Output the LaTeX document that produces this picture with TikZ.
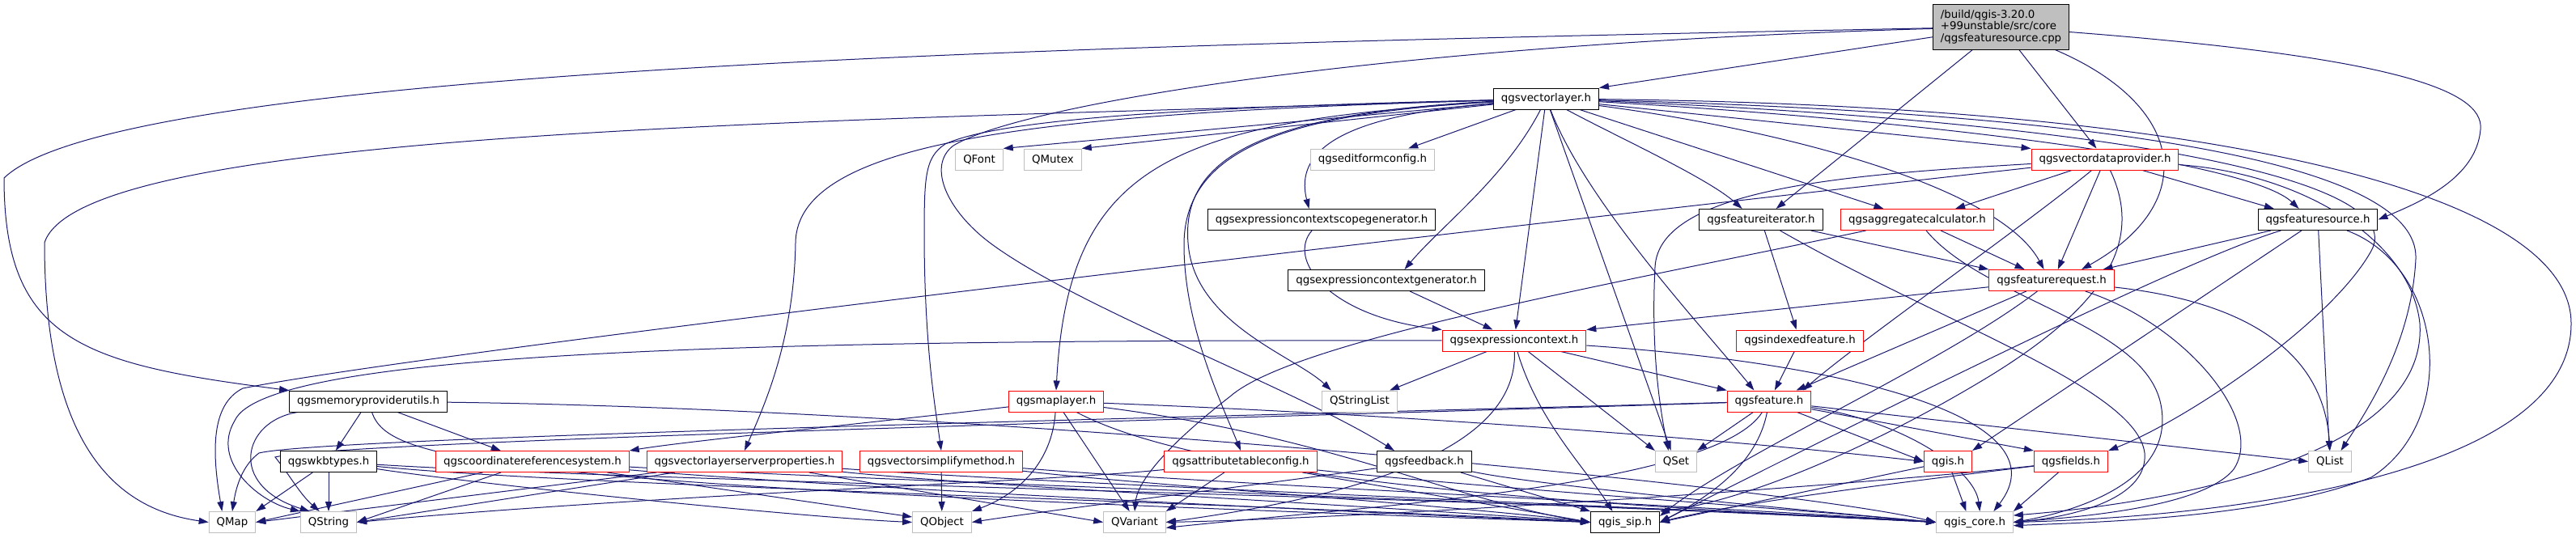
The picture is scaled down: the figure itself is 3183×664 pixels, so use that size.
\documentclass[tikz,border=0pt]{standalone}
\usepackage{fontspec}
\setmainfont{DejaVu Sans}
\usetikzlibrary{arrows.meta}
\definecolor{edgeblue}{HTML}{191970}
\definecolor{grey75}{HTML}{BFBFBF}
\definecolor{boxred}{HTML}{FF0000}
\pgfdeclarelayer{edges}
\pgfsetlayers{edges,main}
\tikzset{file/.style = {draw = black, fill = white, line width = 0.75pt, minimum height = 19.5pt,
                        inner xsep = 7.1pt, inner ysep = 0pt, font = \fontsize{10}{11}\selectfont}}
\tikzset{redfile/.style = {file, draw = boxred}}
\tikzset{sysfile/.style = {file, draw = grey75}}
\tikzset{dep/.style = {draw = edgeblue, line width = 0.75pt, -{Triangle[length = 9pt, width = 6pt]}}}

\begin{document}
\begin{tikzpicture}[x = 0.75pt, y = -0.75pt]
      \useasboundingbox (0, 0) rectangle (3183, 664);

      \node[file, fill = grey75, align = left, minimum width = 125.25pt, minimum height = 42pt] (src) at (2472.5, 33)
            {/build/qgis-3.20.0\\+99unstable/src/core\\/qgsfeaturesource.cpp};
      \node[file] (vl) at (1910.5, 122) {qgsvectorlayer.h};

      \node[sysfile] (font) at (1210, 197) {QFont};
      \node[sysfile] (mutex) at (1301, 197) {QMutex};
      \node[sysfile] (efc) at (1696, 197) {qgseditformconfig.h};
      \node[redfile] (vdp) at (2601, 197) {qgsvectordataprovider.h};

      \node[file] (ecsg) at (1633, 271.5) {qgsexpressioncontextscopegenerator.h};
      \node[file] (fi) at (2176, 271.5) {qgsfeatureiterator.h};
      \node[redfile] (agg) at (2369, 271.5) {qgsaggregatecalculator.h};
      \node[file] (fs) at (2864, 271.5) {qgsfeaturesource.h};

      \node[file] (ecg) at (1713, 346.5) {qgsexpressioncontextgenerator.h};
      \node[redfile] (fr) at (2535, 346.5) {qgsfeaturerequest.h};

      \node[redfile] (ec) at (1871, 421) {qgsexpressioncontext.h};
      \node[redfile] (idx) at (2224, 421) {qgsindexedfeature.h};

      \node[file] (mpu) at (455, 496) {qgsmemoryproviderutils.h};
      \node[redfile] (ml) at (1305, 496) {qgsmaplayer.h};
      \node[sysfile] (strl) at (1680, 496) {QStringList};
      \node[redfile] (feat) at (2186, 496) {qgsfeature.h};

      \node[file] (wkb) at (406, 570.5) {qgswkbtypes.h};
      \node[redfile] (crs) at (658, 570.5) {qgscoordinatereferencesystem.h};
      \node[redfile] (vsp) at (920, 570.5) {qgsvectorlayerserverproperties.h};
      \node[redfile] (vsm) at (1163, 570.5) {qgsvectorsimplifymethod.h};
      \node[redfile] (atc) at (1533, 570.5) {qgsattributetableconfig.h};
      \node[file] (fb) at (1760, 570.5) {qgsfeedback.h};
      \node[sysfile] (qset) at (2071, 570.5) {QSet};
      \node[redfile] (qgis) at (2407, 570.5) {qgis.h};
      \node[redfile] (fields) at (2559, 570.5) {qgsfields.h};
      \node[sysfile] (qlist) at (2879, 570.5) {QList};

      \node[sysfile] (qmap) at (287, 645.5) {QMap};
      \node[sysfile] (qstr) at (406, 645.5) {QString};
      \node[sysfile] (qobj) at (1164, 645.5) {QObject};
      \node[sysfile] (qvar) at (1402, 645.5) {QVariant};
      \node[file] (sip) at (2008, 645.5) {qgis\_sip.h};
      \node[sysfile] (core) at (2440, 645.5) {qgis\_core.h};

      \begin{pgfonlayer}{edges}
      % the source file
      \draw[dep] (src) -- (vl.north east);
      \draw[dep] (src) .. controls (1400, 55) and (150, 80) .. (5, 220) .. controls (5, 420) and (100, 450) .. (mpu.north west);
      \draw[dep] (src) .. controls (1700, 55) and (1260, 130) .. (1178, 180) .. controls (1145, 205) and (1170, 260) .. (1223, 300) .. controls (1330, 380) and (1600, 480) .. (fb.160);
      \draw[dep] (src) -- (fi.36);
      \draw[dep] (src) -- (vdp);
      \draw[dep] (src) .. controls (2700, 130) and (2720, 250) .. (fr.20);
      \draw[dep] (src) .. controls (2950, 70) and (3070, 110) .. (3065, 160) .. controls (3060, 220) and (2990, 250) .. (fs.east);

      % qgsvectorlayer.h
      \draw[dep] (vl) -- (font.north east);
      \draw[dep] (vl) -- (mutex.north east);
      \draw[dep] (vl) -- (efc.17);
      \draw[dep] (vl) -- (vdp.north west);
      \draw[dep] (vl) .. controls (1700, 140) and (1595, 170) .. (ecsg.139);
      \draw[dep] (vl) .. controls (2000, 170) and (2110, 220) .. (fi.150);
      \draw[dep] (vl) -- (agg.162);
      \draw[dep] (vl) .. controls (2400, 150) and (2780, 200) .. (fs.150);
      \draw[dep] (vl) .. controls (1860, 220) and (1780, 280) .. (ecg.31);
      \draw[dep] (vl) .. controls (2200, 160) and (2470, 230) .. (fr.125);
      \draw[dep] (vl) -- (ec);
      \draw[dep] (vl) .. controls (1450, 150) and (1320, 200) .. (ml.north);
      \draw[dep] (vl) .. controls (1550, 140) and (1460, 200) .. (1468, 300) .. controls (1475, 400) and (1600, 440) .. (strl.159);
      \draw[dep] (vl) .. controls (1960, 250) and (2100, 400) .. (feat.144);
      \draw[dep] (vl) -- (qset.115);
      \draw[dep] (vl) .. controls (1300, 140) and (985, 170) .. (983, 300) .. controls (981, 420) and (945, 500) .. (vsp.north);
      \draw[dep] (vl) .. controls (1500, 132) and (1240, 145) .. (1168, 178) .. controls (1142, 195) and (1142, 220) .. (1142, 300) .. controls (1143, 430) and (1155, 500) .. (vsm.north);
      \draw[dep] (vl) .. controls (1600, 140) and (1465, 180) .. (1463, 300) .. controls (1462, 400) and (1510, 500) .. (atc.north);
      \draw[dep] (vl) .. controls (2600, 150) and (2980, 220) .. (2930, 310) .. controls (2880, 400) and (2700, 520) .. (fields.north east);
      \draw[dep] (vl) .. controls (2600, 140) and (2990, 200) .. (2985, 320) .. controls (2980, 420) and (2930, 500) .. (qlist.45);
      \draw[dep] (vl) .. controls (2700, 130) and (3177, 230) .. (3177, 400) .. controls (3177, 600) and (2700, 640) .. (core.east);
      \draw[dep] (vl) .. controls (1000, 150) and (100, 160) .. (55, 300) .. controls (55, 560) and (150, 630) .. (qmap.west);

      % qgsvectordataprovider.h
      \draw[dep] (vdp) -- (agg.16);
      \draw[dep] (vdp) -- (fr.60);
      \draw[dep] (vdp) .. controls (2500, 280) and (2300, 420) .. (feat.18);
      \draw[dep] (vdp) .. controls (2300, 215) and (2050, 230) .. (2045, 330) .. controls (2040, 430) and (2050, 500) .. (qset.125);
      \draw[dep] (vdp) .. controls (1500, 320) and (500, 440) .. (300, 480) .. controls (260, 500) and (262, 560) .. (qmap.133);
      \draw[dep] (vdp) -- (fs.166);
      \draw[dep] (vdp) .. controls (2650, 300) and (2600, 380) .. (2450, 470) .. controls (2300, 560) and (2150, 620) .. (sip.north east);
      \draw[dep] (vdp) .. controls (2850, 215) and (2980, 300) .. (2990, 400) .. controls (3000, 560) and (2700, 620) .. (core.10);

      \draw[dep] (ecsg) .. controls (1590, 320) and (1640, 390) .. (ec.north west);
      \draw[dep] (ecg) -- (ec.153);

      \draw[dep] (fi) -- (fr.north west);
      \draw[dep] (fi) -- (idx);
      \draw[dep] (fi) .. controls (2400, 400) and (2640, 480) .. (2650, 560) .. controls (2655, 620) and (2550, 640) .. (core.east);

      \draw[dep] (agg) -- (fr.158);
      \draw[dep] (agg) .. controls (2000, 350) and (1600, 420) .. (1520, 490) .. controls (1430, 560) and (1405, 600) .. (qvar.north);
      \draw[dep] (agg) .. controls (2450, 370) and (2650, 400) .. (2670, 500) .. controls (2690, 600) and (2550, 635) .. (core.east);

      \draw[dep] (fs) -- (fr.12);
      \draw[dep] (fs) -- (qgis.north east);
      \draw[dep] (fs) -- (qlist);
      \draw[dep] (fs) .. controls (2700, 320) and (2300, 520) .. (sip.east);
      \draw[dep] (fs) .. controls (3020, 330) and (3040, 520) .. (2930, 590) .. controls (2800, 640) and (2600, 645) .. (core.-5);

      % qgsfeaturerequest.h
      \draw[dep] (fr) -- (ec.north east);
      \draw[dep] (fr) -- (feat.22);
      \draw[dep] (fr) .. controls (2400, 450) and (2150, 560) .. (sip.10);
      \draw[dep] (fr) .. controls (2750, 370) and (2870, 420) .. (qlist.north);
      \draw[dep] (fr) .. controls (2700, 400) and (2800, 520) .. (2760, 580) .. controls (2720, 630) and (2550, 640) .. (core.east);

      % qgsexpressioncontext.h
      \draw[dep] (ec) -- (strl.20);
      \draw[dep] (ec) -- (feat.north west);
      \draw[dep] (ec) -- (qset.north west);
      \draw[dep] (ec) .. controls (1900, 520) and (1960, 580) .. (sip.139);
      \draw[dep] (ec) .. controls (1875, 550) and (1700, 610) .. (qvar.east);
      \draw[dep] (ec) .. controls (1000, 420) and (330, 430) .. (290, 520) .. controls (260, 570) and (320, 620) .. (qstr.north west);
      \draw[dep] (ec) .. controls (2300, 450) and (2550, 520) .. (core.30);

      \draw[dep] (idx) -- (feat);

      % qgsfeature.h
      \draw[dep] (feat) -- (qset.north east);
      \draw[dep] (feat) .. controls (2170, 580) and (2100, 620) .. (sip.east);
      \draw[dep] (feat) .. controls (2120, 600) and (1700, 625) .. (qvar.-10);
      \draw[dep] (feat) .. controls (1500, 515) and (400, 540) .. (320, 560) .. controls (300, 575) and (292, 600) .. (qmap.north);
      \draw[dep] (feat) .. controls (1500, 518) and (420, 545) .. (340, 565) .. controls (360, 590) and (370, 610) .. (qstr.130);
      \draw[dep] (feat) .. controls (2350, 520) and (2440, 580) .. (core.65);
      \draw[dep] (feat) -- (fields.north west);
      \draw[dep] (feat) -- (qgis.west);
      \draw[dep] (feat) -- (qlist.west);

      % qgsmemoryproviderutils.h
      \draw[dep] (mpu) -- (wkb);
      \draw[dep] (mpu) -- (crs.161);
      \draw[dep] (mpu) .. controls (300, 520) and (280, 600) .. (qstr.150);
      \draw[dep] (mpu) .. controls (480, 570) and (600, 600) .. (sip.west);
      \draw[dep] (mpu) .. controls (1200, 505) and (2200, 600) .. (core.west);

      \draw[dep] (wkb) -- (qmap.north east);
      \draw[dep] (wkb) -- (qstr);
      \draw[dep] (wkb) .. controls (600, 600) and (1000, 640) .. (qobj.west);
      \draw[dep] (wkb) .. controls (700, 600) and (1500, 620) .. (sip.west);
      \draw[dep] (wkb) .. controls (800, 595) and (2000, 620) .. (core.west);

      \draw[dep] (crs) -- (qmap.east);
      \draw[dep] (crs) -- (qstr.east);
      \draw[dep] (crs) -- (qobj.170);
      \draw[dep] (crs) .. controls (1000, 600) and (1600, 630) .. (sip.west);
      \draw[dep] (crs) .. controls (1100, 595) and (2000, 625) .. (core.west);

      \draw[dep] (vsp) -- (qmap.east);
      \draw[dep] (vsp) -- (qstr.east);
      \draw[dep] (vsp) -- (qvar.west);
      \draw[dep] (vsp) .. controls (1200, 600) and (1700, 625) .. (sip.west);
      \draw[dep] (vsp) .. controls (1300, 598) and (2000, 625) .. (core.west);

      \draw[dep] (vsm) -- (qobj);
      \draw[dep] (vsm) .. controls (1400, 598) and (1800, 625) .. (sip.west);
      \draw[dep] (vsm) .. controls (1500, 598) and (2100, 625) .. (core.west);

      % qgsmaplayer.h
      \draw[dep] (ml) .. controls (1100, 520) and (850, 545) .. (crs.north east);
      \draw[dep] (ml) .. controls (1300, 570) and (1260, 610) .. (qobj.north east);
      \draw[dep] (ml) -- (qvar.115);
      \draw[dep] (ml) .. controls (1800, 515) and (2200, 550) .. (qgis.west);
      \draw[dep] (ml) .. controls (1650, 540) and (1800, 620) .. (sip.west);
      \draw[dep] (ml) .. controls (1500, 600) and (2000, 625) .. (core.west);

      \draw[dep] (atc) -- (qvar.north east);
      \draw[dep] (atc) .. controls (1300, 595) and (800, 612) .. (qstr.east);
      \draw[dep] (atc) .. controls (1700, 600) and (1850, 625) .. (sip.west);
      \draw[dep] (atc) .. controls (1800, 600) and (2200, 628) .. (core.west);

      \draw[dep] (fb) .. controls (1550, 600) and (1300, 630) .. (qobj.east);
      \draw[dep] (fb) -- (sip.north west);
      \draw[dep] (fb) .. controls (1900, 600) and (2200, 628) .. (core.west);

      \draw[dep] (qgis) -- (sip.east);
      \draw[dep] (qgis) -- (core.128);

      \draw[dep] (fields) -- (core.north east);
      \draw[dep] (fields) .. controls (2400, 590) and (2150, 620) .. (sip.east);
      \draw[dep] (fields) .. controls (2300, 600) and (1700, 640) .. (qvar.east);
      \end{pgfonlayer}
\end{tikzpicture}
\end{document}
